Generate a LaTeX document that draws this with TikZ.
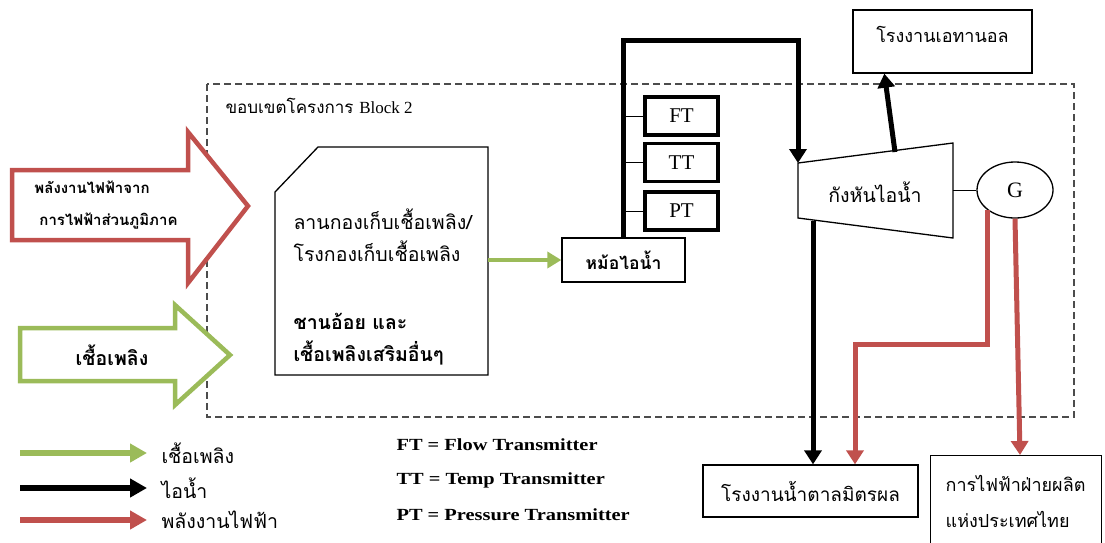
\documentclass[tikz,border=0pt]{standalone}
\usepackage{fontspec}
\setmainfont{Liberation Serif}
\newfontfamily\thaifont[Script=Thai]{Loma}
\newfontfamily\keyfont[FakeStretch=1.2]{Liberation Serif}
\usetikzlibrary{arrows.meta,positioning,shapes.geometric}

\definecolor{fuelgreen}{RGB}{155,187,89}
\definecolor{powerred}{RGB}{192,80,77}

\begin{document}
\begin{tikzpicture}[x=1pt, y=-1pt,
    thai/.style={font=\thaifont\fontsize{19.5}{22}\selectfont},
    plainbox/.style={draw, line width=1.3pt, fill=white, inner sep=0pt},
    tbox/.style={draw, line width=3.5pt, fill=white, minimum width=73pt, minimum height=38pt, inner sep=0pt, font=\fontsize{21}{24}\selectfont},
    fuel/.style={draw=fuelgreen, line width=4pt, -{Triangle[length=14pt,width=16pt]}},
    steam/.style={draw=black, line width=5pt, -{Triangle[length=14pt,width=17pt]}},
    power/.style={draw=powerred, line width=5pt, -{Triangle[length=14pt,width=17pt]}},
    keytext/.style={font=\keyfont\bfseries\fontsize{17}{18}\selectfont, anchor=west},
  ]
  \useasboundingbox (0,0) rectangle (1105,542);

  % Block 2 boundary
  \draw[dash pattern=on 7pt off 4pt, line width=1.3pt, black!70] (207,84) rectangle (1074,417);
  \node[thai, anchor=west, font=\thaifont\fontsize{17}{20}\selectfont] (blocklbl) at (222,106) {ขอบเขตโครงการ {\rmfamily Block 2}};

  % Inputs
  \draw[powerred, line width=4.5pt, fill=white] (12,170) -- (188,170) -- (188,132) -- (248,206) -- (188,283) -- (188,240) -- (12,240) -- cycle;
  \node[thai, align=left, font=\thaifont\bfseries\fontsize{15}{32}\selectfont] (gridin) at (106,205) {พลังงานไฟฟ้าจาก\\\hspace{5pt}การไฟฟ้าส่วนภูมิภาค};
  \draw[fuelgreen, line width=4.5pt, fill=white] (20,328) -- (175,328) -- (175,305) -- (230,355) -- (175,405) -- (175,381) -- (20,381) -- cycle;
  \node[thai, font=\thaifont\bfseries\fontsize{19.5}{22}\selectfont] (fuelin) at (112,355) {เชื้อเพลิง};

  % Fuel storage
  \draw[line width=1.3pt, fill=white] (318,147) -- (488,147) -- (488,375) -- (275,375) -- (275,192) -- cycle;
  \node[thai, align=left, anchor=west, font=\thaifont\fontsize{19.5}{32}\selectfont] (yard) at (290,235) {ลานกองเก็บเชื้อเพลิง/\\โรงกองเก็บเชื้อเพลิง};
  \node[thai, align=left, anchor=west, font=\thaifont\bfseries\fontsize{19.5}{32}\selectfont] (bagasse) at (290,339) {ชานอ้อย และ\\เชื้อเพลิงเสริมอื่นๆ};
  \coordinate (yardout) at (488,260);

  % Boiler and transmitters
  \node[plainbox, thai, font=\thaifont\bfseries\fontsize{17.5}{20}\selectfont, minimum width=123pt, minimum height=44pt] (boiler) at (623.5,260) {หม้อไอน้ำ};
  \draw[fuel] (yardout) -- (boiler.west);
  \node[tbox] (ft) at (681.5,116) {FT};
  \node[tbox] (tt) at (681.5,162.5) {TT};
  \node[tbox] (pt) at (681.5,211) {PT};
  \foreach \t in {ft,tt,pt}
    \draw[line width=1pt] (\t.west) -- (\t.west -| boiler.north);

  % Turbine and generator
  \draw[line width=1.3pt, fill=white] (798,163) -- (953,143) -- (953,238) -- (798,218) -- cycle;
  \node[thai] (turbine) at (875,192) {กังหันไอน้ำ};
  \coordinate (tin) at (798,163);
  \coordinate (steamtop) at (798,40);
  \draw[steam] (boiler.north) |- (steamtop) -- (tin);
  \node[draw, ellipse, line width=1.3pt, minimum width=76pt, minimum height=56pt, inner sep=0pt, font=\fontsize{22}{24}\selectfont] (gen) at (1015,190) {G};
  \coordinate (tout) at (953,190);
  \draw[line width=1pt] (tout) -- (gen.west);

  % Consumers
  \node[plainbox, thai, font=\thaifont\fontsize{18}{20}\selectfont, minimum width=179pt, minimum height=63pt, text depth=14pt] (ethanol) at (942.5,41.5) {โรงงานเอทานอล};
  \coordinate (ttop) at (895,152);
  \draw[steam] (ttop) -- ([xshift=32pt]ethanol.south west);
  \node[plainbox, thai, font=\thaifont\fontsize{19}{22}\selectfont, minimum width=215pt, minimum height=52pt] (sugar) at (810.5,491) {โรงงานน้ำตาลมิตรผล};
  \coordinate (tbot) at (813,221);
  \draw[steam] (tbot) -- (tbot |- sugar.north);
  \node[plainbox, thai, anchor=north west, minimum width=171pt, minimum height=92pt, align=left, text width=141pt, inner xsep=15pt, font=\thaifont\fontsize{18}{36}\selectfont] (egat) at (930,455) {การไฟฟ้าฝ่ายผลิต\\แห่งประเทศไทย};

  % Electricity
  \coordinate (gsplit) at (855,344);
  \draw[power] (gen.216) |- (gsplit) -- (gsplit |- sugar.north);
  \draw[power] (gen.south) -- ([xshift=90pt]egat.north west);

  % Legend
  \node[thai, anchor=west] (legfuel) at (158,453) {เชื้อเพลิง};
  \node[thai, anchor=west] (legsteam) at (158,488) {ไอน้ำ};
  \node[thai, anchor=west] (legpower) at (158,520) {พลังงานไฟฟ้า};
  \foreach \s/\n in {fuel/legfuel, steam/legsteam, power/legpower}
    \draw[\s, line width=6pt, -{Triangle[length=17pt,width=18pt]}] ([xshift=-138pt]\n.west) -- ([xshift=-11pt]\n.west);
  \node[keytext] (ftkey) at (393,445) {FT = Flow Transmitter};
  \node[keytext] (ttkey) at (393,480) {TT = Temp Transmitter};
  \node[keytext] (ptkey) at (393,515) {PT = Pressure Transmitter};
\end{tikzpicture}
\end{document}
